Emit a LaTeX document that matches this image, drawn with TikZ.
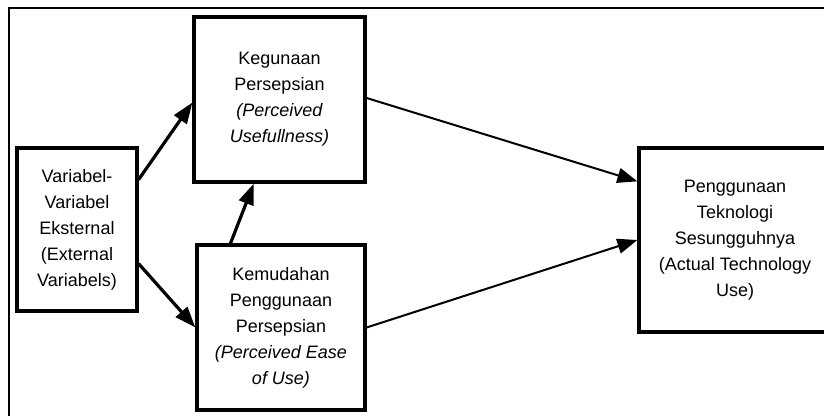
\documentclass[tikz,border=0pt]{standalone}
\usepackage{fontspec}
\setmainfont{Liberation Sans}
\usepackage{tikz}
\usetikzlibrary{arrows.meta,positioning}

\begin{document}
\begin{tikzpicture}[x=1pt,y=-1pt]
  % Acceptance model: external variables, two perceptions, actual use
  \tikzset{blk/.style={draw=black,line width=3.2pt,fill=white,inner sep=0pt,align=center,font=\fontsize{18}{26}\selectfont}}
  \tikzset{lnk/.style={-{Triangle[length=21pt,width=15pt]},line width=3.2pt}}
  \tikzset{thn/.style={-{Triangle[length=20pt,width=15pt]},line width=2pt}}
  \useasboundingbox (0,0) rectangle (824,415);
  \clip (0,0) rectangle (824,415);
  \draw[line width=2pt] (9,8) rectangle (860,440);
  \node[blk,minimum width=120pt,minimum height=163pt] (ext) at (77,229.5) {Variabel-\\Variabel\\Eksternal\\(External\\Variabels)};
  \node[blk,minimum width=171pt,minimum height=165pt] (pu) at (279.5,99.5) {Kegunaan\\Persepsian\\\itshape(Perceived\\\itshape Usefullness)};
  \node[blk,minimum width=168pt,minimum height=165pt] (peou) at (281,327.5) {Kemudahan\\Penggunaan\\Persepsian\\\itshape(Perceived Ease\\\itshape of Use)};
  \node[blk,minimum width=192pt,minimum height=184pt] (tau) at (735,240) {Penggunaan\\Teknologi\\Sesungguhnya\\(Actual Technology\\Use)};
  \draw[lnk] (ext.39.5) -- (pu.182.3);
  \draw[lnk] (ext.331.2) -- (peou.west);
  \draw[lnk] (peou.121.7) -- (pu.253.6);
  \draw[thn] (pu.1) -- (tau.149.1);
  \draw[thn] (peou.east) -- (tau.west);
\end{tikzpicture}
\end{document}
